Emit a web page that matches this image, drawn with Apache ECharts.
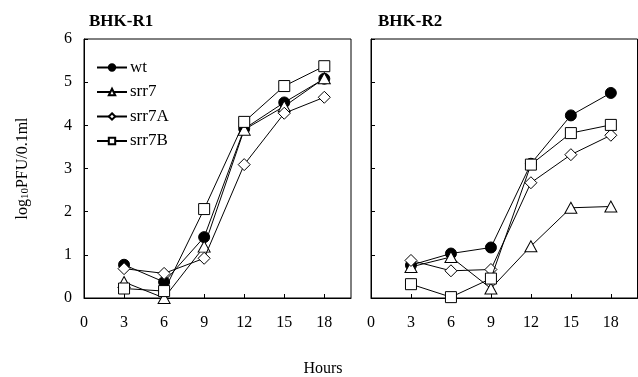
<!DOCTYPE html>
<html><head><meta charset="utf-8">
<script src="https://cdn.jsdelivr.net/npm/echarts@6/dist/echarts.min.js"></script>
<style>html,body{margin:0;padding:0;background:#fff}#c{width:638px;height:377px}</style>
</head><body><div id="c"></div>
<script>
var hours = [3, 6, 9, 12, 15, 18];
var seriesNames = ['wt', 'srr7', 'srr7A', 'srr7B'];
var panelTitles = ['BHK-R1', 'BHK-R2'];
var yTicks = [0, 1, 2, 3, 4, 5, 6];
var xTicks = [0, 3, 6, 9, 12, 15, 18];
// BHK-R1
var r1_wt    = [0.77, 0.37, 1.41, 3.92, 4.53, 5.08];
var r1_srr7  = [0.37, 0.0, 1.19, 3.90, 4.44, 5.09];
var r1_srr7A = [0.68, 0.57, 0.92, 3.09, 4.28, 4.65];
var r1_srr7B = [0.22, 0.16, 2.06, 4.08, 4.91, 5.37];
// BHK-R2
var r2_wt    = [0.76, 1.03, 1.17, 3.11, 4.23, 4.75];
var r2_srr7  = [0.72, 0.95, 0.22, 1.20, 2.09, 2.12];
var r2_srr7A = [0.87, 0.63, 0.66, 2.67, 3.32, 3.77];
var r2_srr7B = [0.32, 0.02, 0.45, 3.09, 3.82, 4.01];

var panels = [[r1_wt, r1_srr7, r1_srr7A, r1_srr7B], [r2_wt, r2_srr7, r2_srr7A, r2_srr7B]];
var symbols = ['circle', 'triangle', 'diamond', 'rect'];
var fills = ['#000', '#fff', '#fff', '#fff'];
var FONT = 'Liberation Serif';

function pairs(v) { return hours.map(function (h, i) { return [h, v[i]]; }); }

var grids = [
  { left: 84, top: 39, width: 267, height: 259, show: true, borderColor: '#000', borderWidth: 1, backgroundColor: 'transparent' },
  { left: 371, top: 39, width: 266.5, height: 259, show: true, borderColor: '#000', borderWidth: 1, backgroundColor: 'transparent' }
];
var xAxes = [0, 1].map(function (g) {
  return {
    type: 'value', gridIndex: g, min: 0, max: 20, interval: 3,
    axisLine: { show: true, lineStyle: { color: '#000', width: 1 } },
    axisTick: { show: true, inside: true, length: 4, lineStyle: { color: '#000' } },
    axisLabel: { color: '#000', fontFamily: FONT, fontSize: 16, margin: 17, showMaxLabel: false,
      formatter: function (v) { return xTicks.indexOf(v) >= 0 ? String(v) : ''; } },
    splitLine: { show: false }
  };
});
var yAxes = [0, 1].map(function (g) {
  return {
    type: 'value', gridIndex: g, min: 0, max: 6, interval: 1,
    axisLine: { show: true, lineStyle: { color: '#000', width: 1 } },
    axisTick: { show: true, inside: true, length: 4, lineStyle: { color: '#000' } },
    axisLabel: { show: g === 0, color: '#000', fontFamily: FONT, fontSize: 16, margin: 12,
      formatter: function (v) { return yTicks.indexOf(v) >= 0 ? String(v) : ''; } },
    splitLine: { show: false },
    name: g === 0 ? 'log{s|10}PFU/0.1ml' : '',
    nameLocation: 'middle', nameRotate: 90, nameGap: 53,
    nameTextStyle: { color: '#000', fontFamily: FONT, fontSize: 16,
      rich: { s: { fontFamily: FONT, fontSize: 11, color: '#000', verticalAlign: 'bottom', padding: [6, 0, 0, 0] } } }
  };
});

var series = [];
panels.forEach(function (arrs, g) {
  arrs.forEach(function (arr, k) {
    series.push({
      name: seriesNames[k], type: 'line', xAxisIndex: g, yAxisIndex: g,
      data: pairs(arr),
      symbol: symbols[k], symbolSize: k === 1 ? [12, 11] : (k === 2 ? 12 : 11),
      lineStyle: { color: '#000', width: 1 },
      itemStyle: { color: fills[k], borderColor: '#000', borderWidth: 1 },
      emphasis: { disabled: true }, animation: false, z: 2 + k
    });
  });
});

var chart = echarts.init(document.getElementById('c'), null, { renderer: 'canvas' });
chart.setOption({
  backgroundColor: '#fff',
  animation: false,
  textStyle: { fontFamily: FONT },
  title: [
    { text: panelTitles[0], left: 84, top: 8, textStyle: { fontFamily: FONT, fontSize: 17, fontWeight: 'bold', color: '#000' } },
    { text: panelTitles[1], left: 373, top: 8, textStyle: { fontFamily: FONT, fontSize: 17, fontWeight: 'bold', color: '#000' } },
    { text: 'Hours', left: 318, top: 356, textAlign: 'center', textStyle: { fontFamily: FONT, fontSize: 16, fontWeight: 'normal', color: '#000' } }
  ],
  legend: {
    data: seriesNames, orient: 'vertical', left: 91, top: 54,
    itemWidth: 30, itemHeight: 8, itemGap: 7.5,
    textStyle: { fontFamily: FONT, fontSize: 17, color: '#000', padding: [0, 0, 0, -2] },
    selectedMode: false
  },
  grid: grids, xAxis: xAxes, yAxis: yAxes, series: series
});
</script></body></html>
